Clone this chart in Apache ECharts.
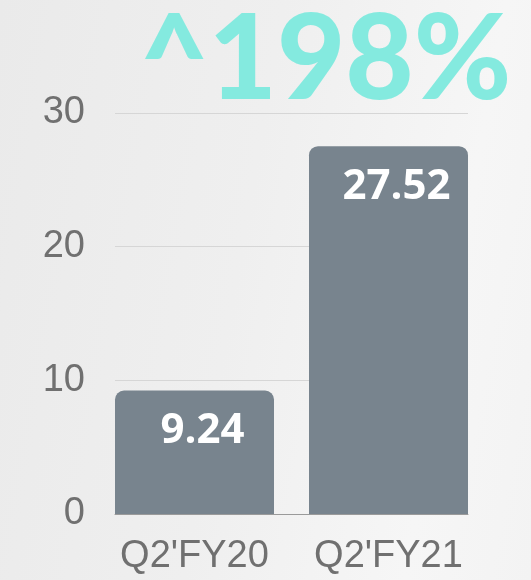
<!DOCTYPE html>
<html>
<head>
<meta charset="utf-8">
<script src="https://cdn.jsdelivr.net/npm/echarts@6/dist/echarts.min.js"></script>
<style>
html,body{margin:0;padding:0;}
#c{width:531px;height:580px;background:linear-gradient(100deg,#eaeaea 0%,#efefef 45%,#f6f6f6 80%,#f3f3f3 100%);}
</style>
</head>
<body>
<div id="c"></div>
<script>
var categories = ["Q2'FY20", "Q2'FY21"];
var values = [9.24, 27.52];
var yTicks = [0, 10, 20, 30];
var headline = "^198%";

var chart = echarts.init(document.getElementById('c'), null, {renderer: 'canvas'});
chart.setOption({
  backgroundColor: 'transparent',
  animation: false,
  title: {
    text: headline,
    left: 135,
    top: -3,
    textStyle: {
      fontFamily: 'Lato',
      fontWeight: 900,
      fontSize: 118,
      color: '#84eadf'
    }
  },
  grid: [
    {left: 115, right: 63, top: 113, bottom: 66},
    {left: 97.5, right: 45.5, top: 113, bottom: 66}
  ],
  xAxis: [
    {gridIndex: 0, type: 'category', data: categories, axisLabel: {show: false},
     axisTick: {show: false}, axisLine: {show: true, lineStyle: {color: '#9a9a9a', width: 1}}, z: 5},
    {gridIndex: 1, type: 'category', data: categories,
     axisLine: {show: false}, axisTick: {show: false},
     axisLabel: {color: '#707070', fontSize: 38, fontFamily: 'Liberation Sans', margin: 24}}
  ],
  yAxis: [
    {gridIndex: 0, type: 'value', min: yTicks[0], max: yTicks[yTicks.length - 1], interval: 10,
     axisLine: {show: false}, axisTick: {show: false},
     splitLine: {lineStyle: {color: '#d6d6d6', width: 1}},
     axisLabel: {color: '#707070', fontSize: 38, fontFamily: 'Liberation Sans', margin: 30}},
    {gridIndex: 1, type: 'value', min: yTicks[0], max: yTicks[yTicks.length - 1], interval: 10,
     show: false, splitLine: {show: false}}
  ],
  series: [{
    type: 'bar',
    xAxisIndex: 1,
    yAxisIndex: 1,
    data: values,
    barWidth: 159,
    itemStyle: {color: '#78848e', borderRadius: [9, 9, 0, 0]},
    label: {
      show: true,
      position: 'insideTop',
      distance: 20,
      offset: [8, 0],
      color: '#ffffff',
      fontFamily: 'Open Sans',
      fontWeight: 'bold',
      fontSize: 42,
      formatter: function (p) { return p.value.toFixed(2); }
    },
    z: 3
  }]
});
</script>
</body>
</html>
